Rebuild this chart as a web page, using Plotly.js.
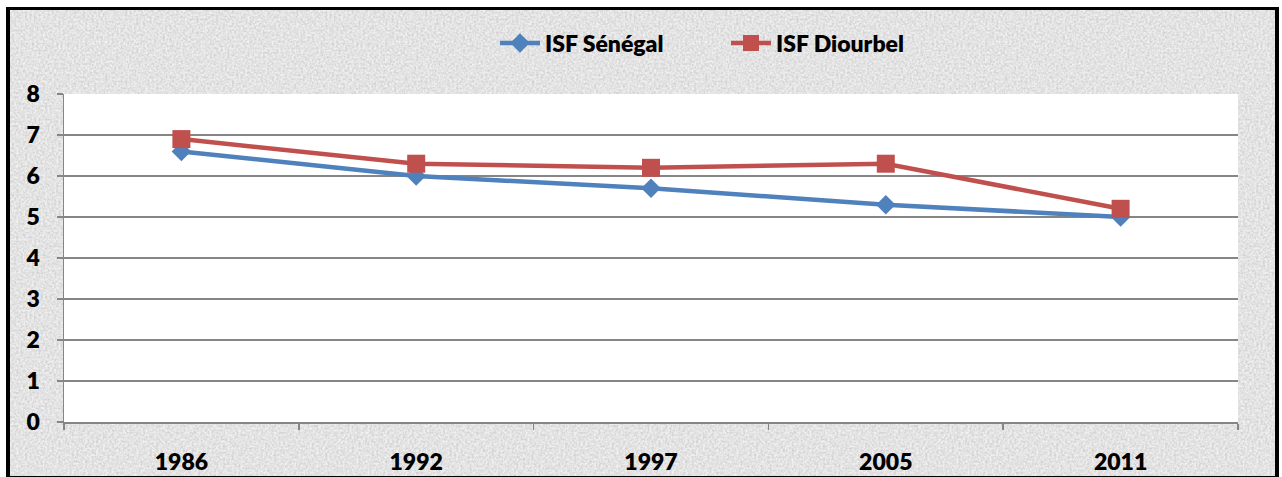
<!DOCTYPE html>
<html>
<head>
<meta charset="utf-8">
<script src="https://cdn.plot.ly/plotly-3.0.1.min.js"></script>
<style>
  html, body { margin:0; padding:0; background:#ffffff; width:1282px; height:477px; overflow:hidden; }
  #frame {
    position:absolute; left:6px; top:7px; width:1273px; height:472px; box-sizing:border-box;
    border-left:4px solid #000; border-top:3px solid #000; border-right:4px solid #000; border-bottom:3px solid #000;
    background-color:#e9e9e9;
    background-image:url("data:image/svg+xml;utf8,<svg xmlns='http://www.w3.org/2000/svg' width='300' height='300'><filter id='n'><feTurbulence type='fractalNoise' baseFrequency='0.45' numOctaves='3' seed='4'/><feColorMatrix type='matrix' values='0 0 0 0 0.5  0 0 0 0 0.5  0 0 0 0 0.5  0 0 0 1.1 -0.3'/></filter><rect width='300' height='300' fill='%23f0f0f0'/><rect width='300' height='300' filter='url(%23n)'/></svg>");
  }
  #chart { position:absolute; left:0; top:0; width:1282px; height:477px; }
</style>
</head>
<body>
<div id="frame"></div>
<div id="chart"></div>
<script>
const years = ["1986", "1992", "1997", "2005", "2011"];
const isfSenegal = [6.6, 6.0, 5.7, 5.3, 5.0];
const isfDiourbel = [6.9, 6.3, 6.2, 6.3, 5.2];
const yTicks = [0, 1, 2, 3, 4, 5, 6, 7, 8];

const traces = [
  {
    x: years, y: isfSenegal, name: "ISF Sénégal", type: "scatter", mode: "lines+markers",
    line: { color: "#4F81BD", width: 4.5 },
    marker: { symbol: "diamond", size: 15, color: "#4F81BD" }
  },
  {
    x: years, y: isfDiourbel, name: "ISF Diourbel", type: "scatter", mode: "lines+markers",
    line: { color: "#C0504D", width: 4.5 },
    marker: { symbol: "square", size: 18, color: "#C0504D" }
  }
];

const layout = {
  width: 1282, height: 477,
  paper_bgcolor: "rgba(0,0,0,0)",
  plot_bgcolor: "#ffffff",
  margin: { l: 64, r: 44, t: 94, b: 55, autoexpand: false },
  font: { family: "Lato, 'Open Sans', sans-serif", size: 17, color: "#000000" },
  showlegend: true,
  legend: {
    orientation: "h", xref: "container", x: 495 / 1282, xanchor: "left",
    yref: "container", y: 1 - 43 / 477, yanchor: "middle",
    bgcolor: "rgba(0,0,0,0)", font: { family: "Lato, sans-serif", size: 23, weight: 800, color: "#000" },
    itemwidth: 40, entrywidth: 176, entrywidthmode: "pixels", tracegroupgap: 0
  },
  xaxis: {
    type: "category", tickson: "boundaries", ticks: "outside", ticklen: 6, tickcolor: "#868686", tickwidth: 1.5,
    showgrid: false, showline: true, linecolor: "#868686", linewidth: 1.5,
    tickfont: { family: "Lato, sans-serif", size: 23, weight: 800, color: "#000" },
    ticklabelstandoff: 19, range: [-0.5, 4.5], fixedrange: true
  },
  yaxis: {
    range: [0, 8], tickvals: yTicks, ticktext: yTicks.map(String),
    ticks: "outside", ticklen: 6, tickcolor: "#868686", tickwidth: 1.5,
    showgrid: true, gridcolor: "#868686", gridwidth: 1.5,
    showline: true, linecolor: "#868686", linewidth: 1.5, zeroline: false,
    tickfont: { family: "Lato, sans-serif", size: 23, weight: 800, color: "#000" },
    ticklabelstandoff: 12, fixedrange: true
  }
};

Plotly.newPlot("chart", traces, layout, { displayModeBar: false, staticPlot: true });
</script>
</body>
</html>
